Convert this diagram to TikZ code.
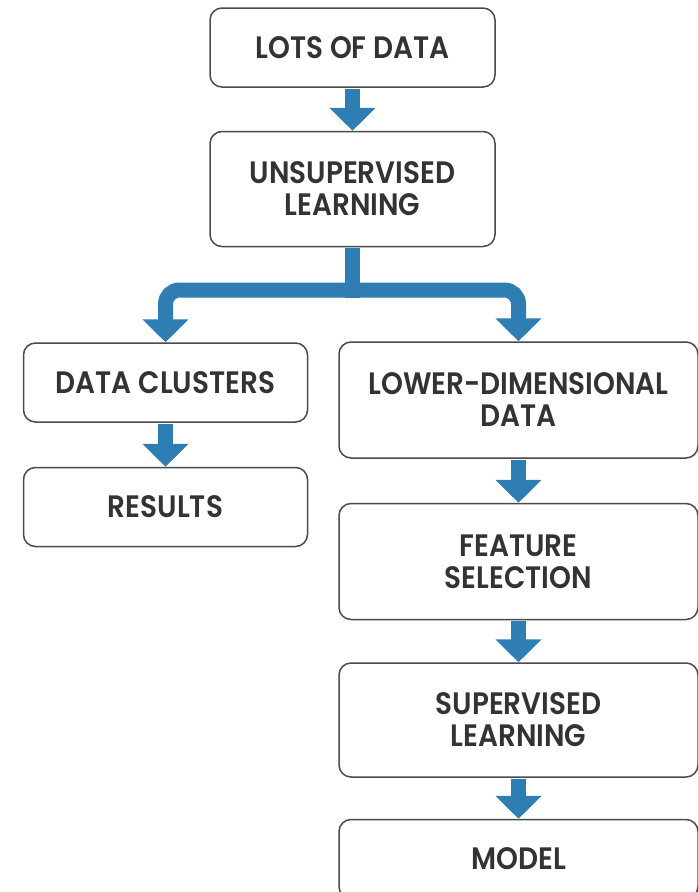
\documentclass[tikz,border=0pt]{standalone}
\usepackage{fontspec}
\setmainfont{Poppins}[FakeStretch=0.90, BoldFont={Poppins SemiBold}]
\usepackage{xcolor}
\usepackage{tikz}
\usetikzlibrary{arrows.meta,positioning}
\definecolor{flowblue}{HTML}{2E7EB3}
\definecolor{boxgray}{HTML}{4A4A4A}
\definecolor{textgray}{HTML}{333333}
\tikzset{
  stage/.style={draw=boxgray, line width=1.5pt, rounded corners=12pt, text=textgray, align=center, font=\fontsize{31}{32}\selectfont\bfseries, inner sep=0pt}, % boxes of the pipeline
  short/.style={stage, minimum height=79pt},
  tall/.style={stage, minimum height=115pt},
  flow/.style={draw=flowblue, line width=15pt, -{Triangle[width=45pt,length=23pt]}, shorten <=0.75pt}, % block arrows
  branch/.style={draw=flowblue, line width=15pt, rounded corners=14pt, -{Triangle[width=45pt,length=23pt]}}
}
\begin{document}
\begin{tikzpicture}[x=1pt, y=-1pt, node distance=43pt]
    \useasboundingbox (0,0) rectangle (698,892);

    % Top of the pipeline
    \node[short, minimum width=285pt] (data) at (352.5,47.5) {LOTS OF DATA};
    \node[tall, minimum width=285pt] (unsup) [below=of data] {UNSUPERVISED\\LEARNING};

    % Left branch
    \node[short, minimum width=284pt] (clusters) at (165.5,382.5) {DATA CLUSTERS};
    \node[short, minimum width=284pt] (results) [below=44pt of clusters] {RESULTS};

    % Right branch
    \node[tall, minimum width=359pt, minimum height=116pt] (lowdim) at (518.5,400) {LOWER-DIMENSIONAL\\DATA};
    \node[tall, minimum width=359pt, minimum height=116pt] (feature) [below=44pt of lowdim] {FEATURE\\SELECTION};
    \node[tall, minimum width=359pt, minimum height=114pt] (superv) [below=42pt of feature] {SUPERVISED\\LEARNING};
    \node[short, minimum width=359pt] (model) [below=41pt of superv] {MODEL};

    % Arrows
    \draw[flow] (data) -- (unsup);
    \draw[flow] (clusters) -- (results);
    \draw[flow] (lowdim) -- (feature);
    \draw[flow] (feature) -- (superv);
    \draw[flow] (superv) -- (model);

    % Split after unsupervised learning
    \coordinate (split) at (unsup.south |- 0,290);
    \draw[draw=flowblue, line width=15pt, shorten <=0.75pt] (unsup.south) -- ([yshift=-7.5pt]split);
    \draw[branch] (split) -| (clusters.north);
    \draw[branch] (split) -| (lowdim.north);
\end{tikzpicture}
\end{document}
